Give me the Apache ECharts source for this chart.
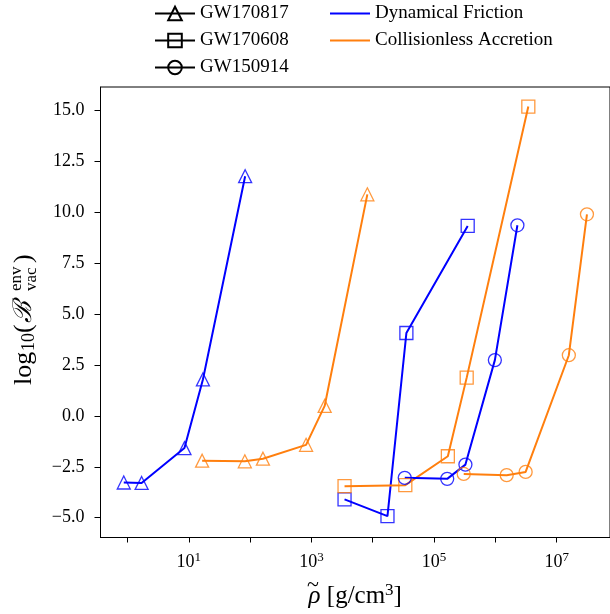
<!DOCTYPE html>
<html>
<head>
<meta charset="utf-8">
<script src="https://cdn.jsdelivr.net/npm/echarts@6/dist/echarts.min.js"></script>
<style>html,body{margin:0;padding:0;background:#fff}#c{width:610px;height:614px}</style>
</head>
<body>
<div id="c"></div>
<script>
// ---- data ----
const rhoDF170817 = [0.87, 1.7, 8.5, 17, 83];
const logBDF170817 = [-3.27, -3.29, -1.58, 1.79, 11.77];
const rhoCA170817 = [16.5, 82, 162, 818, 1645, 8170];
const logBCA170817 = [-2.20, -2.23, -2.10, -1.42, 0.49, 10.88];
const rhoDF170608 = [3470, 17400, 35400, 354000];
const logBDF170608 = [-4.10, -4.92, 4.07, 9.33];
const rhoCA170608 = [3470, 34000, 168000, 341000, 3450000];
const logBCA170608 = [-3.45, -3.40, -1.98, 1.88, 15.19];
const rhoDF150914 = [33300, 164000, 325000, 982000, 2290000];
const logBDF150914 = [-3.04, -3.09, -2.39, 2.74, 9.36];
const rhoCA150914 = [305000, 1530000, 3120000, 15800000, 31200000];
const logBCA150914 = [-2.85, -2.91, -2.75, 2.98, 9.90];

const eventNames = ['GW170817', 'GW170608', 'GW150914'];
const modelNames = ['Dynamical Friction', 'Collisionless Accretion'];
const xTickValues = [1, 10, 100, 1e3, 1e4, 1e5, 1e6, 1e7];
const xLabelValues = [10, 1e3, 1e5, 1e7];
const yTickValues = [-5, -2.5, 0, 2.5, 5, 7.5, 10, 12.5, 15];

// ---- styling ----
const FONT = '"Liberation Serif", "DejaVu Serif", serif';
const BLUE = '#0000ff';
const ORANGE = '#ff7f0e';
const symbols = {GW170817: 'triangle', GW170608: 'rect', GW150914: 'circle'};

function zip(xs, ys) { return xs.map((x, i) => [x, ys[i]]); }

function dataSeries(name, xs, ys, color, ev) {
  return {
    name: name, type: 'line', data: zip(xs, ys),
    symbol: symbols[ev], symbolSize: 13,
    showAllSymbol: true,
    lineStyle: {color: color, width: 2},
    itemStyle: {color: 'rgba(0,0,0,0)', borderColor: color, borderWidth: 1.3, opacity: 0.8},
    emphasis: {disabled: true}, silent: true, z: 3
  };
}

const series = [
  dataSeries('DF-GW170817', rhoDF170817, logBDF170817, BLUE, 'GW170817'),
  dataSeries('CA-GW170817', rhoCA170817, logBCA170817, ORANGE, 'GW170817'),
  dataSeries('DF-GW170608', rhoDF170608, logBDF170608, BLUE, 'GW170608'),
  dataSeries('CA-GW170608', rhoCA170608, logBCA170608, ORANGE, 'GW170608'),
  dataSeries('DF-GW150914', rhoDF150914, logBDF150914, BLUE, 'GW150914'),
  dataSeries('CA-GW150914', rhoCA150914, logBCA150914, ORANGE, 'GW150914')
];
// legend-only series
eventNames.forEach(ev => series.push({
  name: ev, type: 'line', data: [], symbol: symbols[ev], symbolSize: 14,
  lineStyle: {color: '#000', width: 2},
  itemStyle: {color: 'rgba(0,0,0,0)', borderColor: '#000', borderWidth: 1.3}
}));
modelNames.forEach((m, i) => series.push({
  name: m, type: 'line', data: [], symbol: 'none',
  lineStyle: {color: i === 0 ? BLUE : ORANGE, width: 2},
  itemStyle: {color: i === 0 ? BLUE : ORANGE}
}));

const chart = echarts.init(document.getElementById('c'), null, {renderer: 'canvas'});
chart.setOption({
  animation: false,
  backgroundColor: '#fff',
  grid: {left: 100.5, right: -3, top: 87, bottom: 74, show: true, borderColor: '#000', borderWidth: 1},
  legend: [
    {data: eventNames, orient: 'vertical', left: 149, top: -1, itemWidth: 40, itemHeight: 17, itemGap: 8,
     textStyle: {fontFamily: FONT, fontSize: 19, color: '#000'}, selectedMode: false},
    {data: modelNames.map(m => ({name: m, icon: 'rect'})), orient: 'vertical', left: 325, top: -1,
     itemWidth: 40, itemHeight: 2, itemGap: 8,
     textStyle: {fontFamily: FONT, fontSize: 19, color: '#000'}, selectedMode: false}
  ],
  xAxis: {
    type: 'log', logBase: 10,
    min: Math.pow(10, -0.44), max: Math.pow(10, 7.87),
    axisLine: {onZero: false, lineStyle: {color: '#000', width: 1}},
    axisTick: {show: true, length: 5, customValues: xTickValues, lineStyle: {color: '#000'}},
    axisLabel: {
      customValues: xLabelValues, margin: 14, color: '#000',
      formatter: v => '{b|10}{s|' + Math.round(Math.log10(v)) + '}',
      rich: {b: {fontFamily: FONT, fontSize: 18, color: '#000'},
             s: {fontFamily: FONT, fontSize: 13, color: '#000', padding: [0, 0, 9, 0]}}
    },
    splitLine: {show: false}, minorTick: {show: false},
    name: '{i|ρ} [g/cm{s|3}]', nameLocation: 'middle', nameGap: 45,
    nameTextStyle: {fontFamily: FONT, fontSize: 25, color: '#000',
      rich: {i: {fontFamily: FONT, fontStyle: 'italic', fontSize: 25, color: '#000'},
             s: {fontFamily: FONT, fontSize: 17, color: '#000', padding: [0, 0, 11, 0]}}}
  },
  yAxis: {
    type: 'value', min: -5.97, max: 16.15,
    axisLine: {show: true, onZero: false, lineStyle: {color: '#000', width: 1}},
    axisTick: {show: true, length: 6, customValues: yTickValues, lineStyle: {color: '#000'}},
    axisLabel: {customValues: yTickValues, margin: 16, color: '#000', fontFamily: FONT, fontSize: 18,
      formatter: v => (v < 0 ? '\u2212' : '') + Math.abs(v).toFixed(1)},
    splitLine: {show: false}
  },
  graphic: [{
    type: 'group', x: 24, y: 318, rotation: Math.PI / 2,
    children: [
      {type: 'text', x: -67, y: 0, style: {text: 'log', font: '26px ' + FONT, fill: '#000', verticalAlign: 'middle', align: 'left'}},
      {type: 'text', x: -33, y: 5, style: {text: '10', font: '18px ' + FONT, fill: '#000', verticalAlign: 'middle', align: 'left'}},
      {type: 'text', x: -15, y: 0, style: {text: '(', font: '26px ' + FONT, fill: '#000', verticalAlign: 'middle', align: 'left'}},
      {type: 'text', x: -5, y: 0, style: {text: 'ℬ', font: 'italic 26px ' + FONT, fill: '#000', verticalAlign: 'middle', align: 'left'}},
      {type: 'text', x: 27, y: -7, style: {text: 'env', font: '17px ' + FONT, fill: '#000', verticalAlign: 'middle', align: 'left'}},
      {type: 'text', x: 27, y: 8, style: {text: 'vac', font: '17px ' + FONT, fill: '#000', verticalAlign: 'middle', align: 'left'}},
      {type: 'text', x: 55, y: 0, style: {text: ')', font: '26px ' + FONT, fill: '#000', verticalAlign: 'middle', align: 'left'}}
    ]
  }, {
    type: 'text', x: 313, y: 585, style: {text: '~', font: '22px ' + FONT, fill: '#000', align: 'center', verticalAlign: 'middle'}
  }],
  series: series
});
</script>
</body>
</html>
